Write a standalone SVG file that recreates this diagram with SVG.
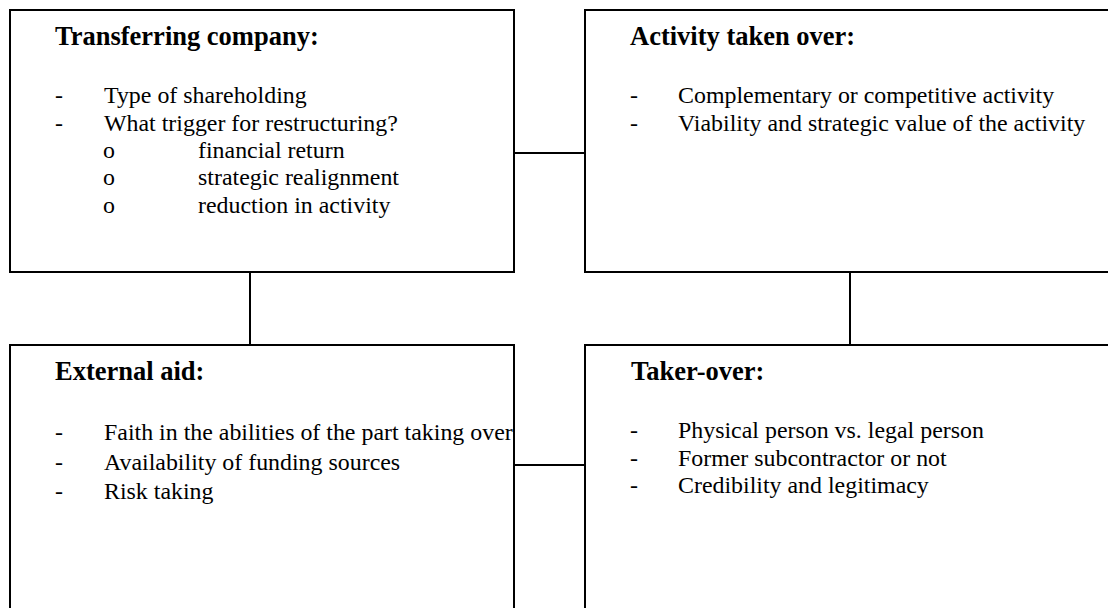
<svg xmlns="http://www.w3.org/2000/svg" width="1108" height="608" viewBox="0 0 1108 608">
<style>
.box{fill:#fff;stroke:#000;stroke-width:2}
.con{fill:none;stroke:#000;stroke-width:2}
.t{font-family:"Liberation Serif","Times New Roman",serif;font-size:26.5px;font-weight:bold;fill:#000}
.b{font-family:"Liberation Serif","Times New Roman",serif;font-size:23.9px;fill:#000}
</style>
<rect width="1108" height="608" fill="#fff"/>
<g id="connectors">
<line class="con" x1="514" y1="153" x2="585" y2="153"/>
<line class="con" x1="250" y1="272" x2="250" y2="345"/>
<line class="con" x1="850" y1="272" x2="850" y2="345"/>
<line class="con" x1="514" y1="465" x2="585" y2="465"/>
</g>
<g id="transferring">
<rect class="box" x="10" y="10" width="504" height="262"/>
<text class="t" x="55" y="45">Transferring company:</text>
<text class="b" x="55" y="103">-</text><text class="b" x="104" y="103">Type of shareholding</text>
<text class="b" x="55" y="131">-</text><text class="b" x="104" y="131">What trigger for restructuring?</text>
<text class="b" x="103" y="158">o</text><text class="b" x="198" y="158">financial return</text>
<text class="b" x="103" y="185">o</text><text class="b" x="198" y="185">strategic realignment</text>
<text class="b" x="103" y="213">o</text><text class="b" x="198" y="213">reduction in activity</text>
</g>
<g id="activity">
<rect class="box" x="585" y="10" width="540" height="262"/>
<text class="t" x="630" y="45">Activity taken over:</text>
<text class="b" x="630" y="103">-</text><text class="b" x="678" y="103">Complementary or competitive activity</text>
<text class="b" x="630" y="131">-</text><text class="b" x="678" y="131">Viability and strategic value of the activity</text>
</g>
<g id="external">
<rect class="box" x="10" y="345" width="504" height="280"/>
<text class="t" x="55" y="380">External aid:</text>
<text class="b" x="55" y="440">-</text><text class="b" x="104" y="440">Faith in the abilities of the part taking over</text>
<text class="b" x="55" y="470">-</text><text class="b" x="104" y="470">Availability of funding sources</text>
<text class="b" x="55" y="499">-</text><text class="b" x="104" y="499">Risk taking</text>
</g>
<g id="takerover">
<rect class="box" x="585" y="345" width="540" height="280"/>
<text class="t" x="631" y="380">Taker-over:</text>
<text class="b" x="630" y="438">-</text><text class="b" x="678" y="438">Physical person vs. legal person</text>
<text class="b" x="630" y="466">-</text><text class="b" x="678" y="466">Former subcontractor or not</text>
<text class="b" x="630" y="493">-</text><text class="b" x="678" y="493">Credibility and legitimacy</text>
</g>
</svg>
